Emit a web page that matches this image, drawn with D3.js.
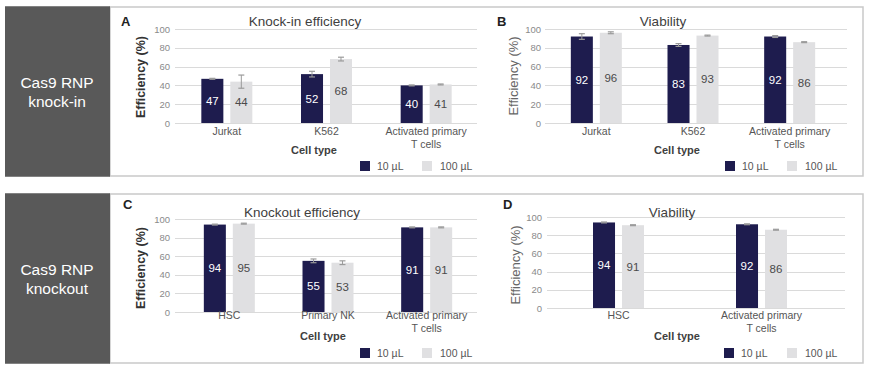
<!DOCTYPE html>
<html>
<head>
<meta charset="utf-8">
<script src="https://cdn.jsdelivr.net/npm/d3@7"></script>
<style>
  html, body { margin: 0; padding: 0; background: #ffffff; }
  svg { display: block; font-family: "Liberation Sans", Arial, Helvetica, sans-serif; }
</style>
</head>
<body>
<svg id="chart" width="870" height="369"></svg>
<script>
// ---------------- DATA ----------------
const series = ["10 µL", "100 µL"];
const yTicks = [0, 20, 40, 60, 80, 100];

const catsA = ["Jurkat", "K562", "Activated primary|T cells"];
const knockin10 = [47, 52, 40];
const knockin100 = [44, 68, 41];
const knockinErr10 = [0.5, 3, 0.5];
const knockinErr100 = [7, 2, 0.5];

const catsB = ["Jurkat", "K562", "Activated primary|T cells"];
const viabKI10 = [92, 83, 92];
const viabKI100 = [96, 93, 86];
const viabKIErr10 = [3, 1.5, 1];
const viabKIErr100 = [1, 0.5, 0.5];

const catsC = ["HSC", "Primary NK", "Activated primary|T cells"];
const knockout10 = [94, 55, 91];
const knockout100 = [95, 53, 91];
const knockoutErr10 = [0.5, 2, 0.5];
const knockoutErr100 = [0.5, 2, 0.5];

const catsD = ["HSC", "Activated primary|T cells"];
const viabKO10 = [94, 92];
const viabKO100 = [91, 86];
const viabKOErr10 = [0.5, 0.5];
const viabKOErr100 = [0.5, 0.5];

const rowLabels = [["Cas9 RNP", "knock-in"], ["Cas9 RNP", "knockout"]];
const panelTitles = ["Knock-in efficiency", "Viability", "Knockout efficiency", "Viability"];
const panelLetters = ["A", "B", "C", "D"];
const yLabel = "Efficiency (%)";
const xLabel = "Cell type";

// ---------------- STYLE ----------------
const DARK = "#1e1c4e";
const LIGHT = "#e0e0e2";
const colors = [DARK, LIGHT];

const svg = d3.select("#chart");

// rows: frames and side labels
const rows = [{ y0: 7, y1: 176 }, { y0: 194, y1: 363 }];
rows.forEach((r, i) => {
  svg.append("rect").attr("x", 110).attr("y", r.y0).attr("width", 753).attr("height", r.y1 - r.y0)
    .attr("fill", "#fff").attr("stroke", "#c9c9c9").attr("stroke-width", 1.5);
  svg.append("rect").attr("x", 5).attr("y", r.y0 - 0.75).attr("width", 105).attr("height", r.y1 - r.y0 + 1.5)
    .attr("fill", "#595959");
  const cy = (r.y0 + r.y1) / 2;
  svg.append("text").attr("x", 57).attr("y", cy - 4).attr("text-anchor", "middle")
    .attr("fill", "#fff").attr("font-size", "15.5px").text(rowLabels[i][0]);
  svg.append("text").attr("x", 57).attr("y", cy + 15).attr("text-anchor", "middle")
    .attr("fill", "#fff").attr("font-size", "15.5px").text(rowLabels[i][1]);
});

const panels = [
  { cats: catsA, v: [knockin10, knockin100], e: [knockinErr10, knockinErr100],
    grid: [175, 477], band: [177, 476], y: [123, 29], title: 305, titleY: 26, letter: [121, 26],
    yl: [140, 77], ylBold: true, tickX: 170, catY: 135, xlX: 314, xlY: 154, legY: 161, leg: [360, 422] },
  { cats: catsB, v: [viabKI10, viabKI100], e: [viabKIErr10, viabKIErr100],
    grid: [545, 847], band: [548, 838], y: [123, 29], title: 663, titleY: 26, letter: [497, 26],
    yl: [513, 76], ylBold: false, tickX: 541, catY: 135, xlX: 677, xlY: 154, legY: 161, leg: [725, 787] },
  { cats: catsC, v: [knockout10, knockout100], e: [knockoutErr10, knockoutErr100],
    grid: [175, 477], band: [180, 476], y: [312, 219], title: 302, titleY: 217, letter: [123, 209],
    yl: [140, 268], ylBold: true, tickX: 170, catY: 319, xlX: 323, xlY: 340, legY: 348, leg: [360, 422] },
  { cats: catsD, v: [viabKO10, viabKO100], e: [viabKOErr10, viabKOErr100],
    grid: [547, 845], band: [547, 833], y: [308, 217], title: 672, titleY: 217, letter: [503, 209],
    yl: [515, 265], ylBold: false, tickX: 542, catY: 319, xlX: 677, xlY: 340, legY: 348, leg: [724, 787] }
];

panels.forEach((p, pi) => {
  const g = svg.append("g");
  const y = d3.scaleLinear().domain([0, 100]).range(p.y);
  const x = d3.scaleBand().domain(p.cats).range(p.band);
  const xs = d3.scaleBand().domain(series).range([-25.5, 25.5]).paddingInner(0.24);

  // gridlines
  g.selectAll("line.grid").data(yTicks).enter().append("line")
    .attr("x1", p.grid[0]).attr("x2", p.grid[1])
    .attr("y1", d => Math.round(y(d)) + 0.5).attr("y2", d => Math.round(y(d)) + 0.5)
    .attr("stroke", "#dadada").attr("stroke-width", 1);

  // y axis tick labels via d3 axis
  const yAxis = d3.axisLeft(y).tickValues(yTicks).tickSize(0).tickPadding(0);
  const ya = g.append("g").attr("transform", `translate(${p.tickX},0)`).call(yAxis);
  ya.select(".domain").remove();
  ya.selectAll("text").attr("fill", "#8a8a8a").attr("font-size", "9.5px")
    .style("font-family", "Liberation Sans, Arial, sans-serif");

  // bars
  series.forEach((s, si) => {
    const data = p.cats.map((c, ci) => ({ c, v: p.v[si][ci], e: p.e[si][ci] }));
    const bx = d => x(d.c) + x.bandwidth() / 2 + xs(s);
    g.selectAll(null).data(data).enter().append("rect")
      .attr("x", bx).attr("width", xs.bandwidth())
      .attr("y", d => y(d.v)).attr("height", d => y(0) - y(d.v))
      .attr("fill", colors[si]);
    // error bars
    const ex = d => bx(d) + xs.bandwidth() / 2;
    const eg = g.selectAll(null).data(data).enter().append("g");
    eg.append("line").attr("x1", ex).attr("x2", ex)
      .attr("y1", d => y(d.v + d.e)).attr("y2", d => y(d.v - d.e))
      .attr("stroke", "#9a9a9a").attr("stroke-width", 1);
    eg.append("line").attr("x1", d => ex(d) - 3).attr("x2", d => ex(d) + 3)
      .attr("y1", d => y(d.v + d.e)).attr("y2", d => y(d.v + d.e))
      .attr("stroke", "#9a9a9a").attr("stroke-width", 1.2);
    eg.append("line").attr("x1", d => ex(d) - 3).attr("x2", d => ex(d) + 3)
      .attr("y1", d => y(d.v - d.e)).attr("y2", d => y(d.v - d.e))
      .attr("stroke", "#9a9a9a").attr("stroke-width", 1.2);
    // value labels
    g.selectAll(null).data(data).enter().append("text")
      .attr("x", ex).attr("y", d => (y(d.v) + y(0)) / 2 + 4)
      .attr("text-anchor", "middle").attr("font-size", "11.5px")
      .attr("fill", si === 0 ? "#ffffff" : "#4a4a4a").text(d => d.v);
  });

  // category labels
  p.cats.forEach(c => {
    const lines = c.split("|");
    lines.forEach((ln, li) => {
      g.append("text").attr("x", x(c) + x.bandwidth() / 2).attr("y", p.catY + li * 13)
        .attr("text-anchor", "middle").attr("font-size", "10.5px").attr("fill", "#555")
        .text(ln);
    });
  });

  // axis titles
  g.append("text").attr("x", p.xlX).attr("y", p.xlY).attr("text-anchor", "middle")
    .attr("font-size", "11px").attr("font-weight", "bold").attr("fill", "#404040").text(xLabel);
  g.append("text").attr("transform", `translate(${p.yl[0] + 4.5},${p.yl[1]}) rotate(-90)`)
    .attr("text-anchor", "middle").attr("font-size", p.ylBold ? "12.5px" : "13px")
    .attr("font-weight", p.ylBold ? "bold" : "normal")
    .attr("fill", p.ylBold ? "#333" : "#666").text(yLabel);

  // title & letter
  g.append("text").attr("x", p.title).attr("y", p.titleY).attr("text-anchor", "middle")
    .attr("font-size", "13.5px").attr("fill", "#404040").text(panelTitles[pi]);
  g.append("text").attr("x", p.letter[0]).attr("y", p.letter[1])
    .attr("font-size", "13px").attr("font-weight", "bold").attr("fill", "#222").text(panelLetters[pi]);

  // legend
  series.forEach((s, si) => {
    g.append("rect").attr("x", p.leg[si]).attr("y", p.legY).attr("width", 10).attr("height", 10)
      .attr("fill", colors[si]);
    g.append("text").attr("x", p.leg[si] + (si === 0 ? 17 : 18)).attr("y", p.legY + 9)
      .attr("font-size", "10.5px").attr("fill", "#555").text(s);
  });
});
</script>
</body>
</html>
